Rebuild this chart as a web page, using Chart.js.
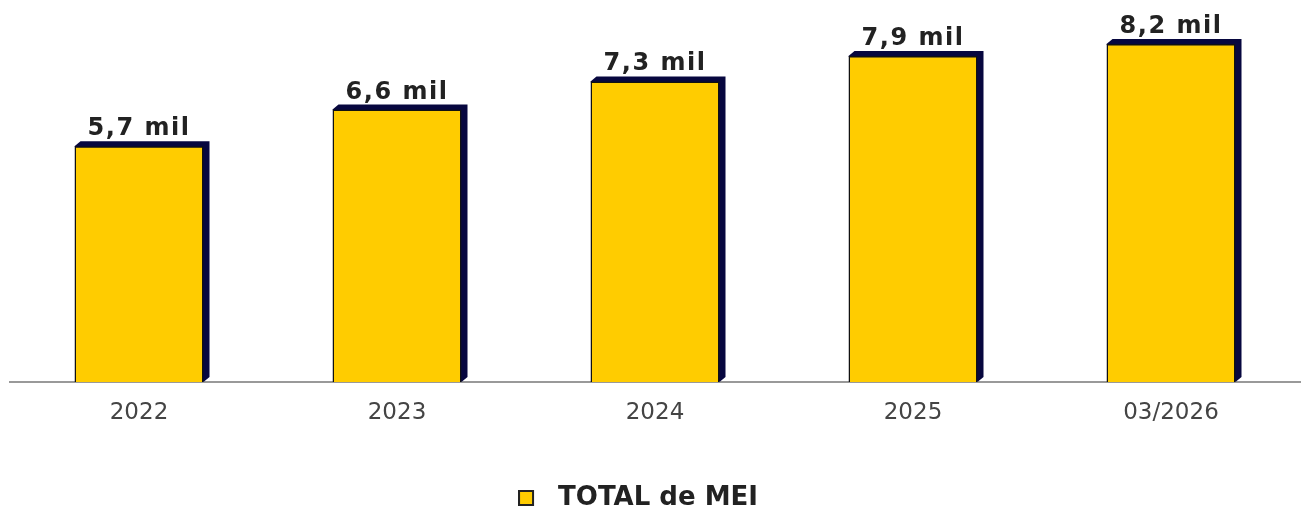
<!DOCTYPE html>
<html>
<head>
<meta charset="utf-8">
<script src="https://cdn.jsdelivr.net/npm/chart.js@4"></script>
<style>
  html, body { margin: 0; padding: 0; background: #fff; }
  #wrap { width: 1303px; height: 511px; }
</style>
</head>
<body>
<div id="wrap"><canvas id="chart"></canvas></div>
<script>
// values (in units)
const categories = ['2022', '2023', '2024', '2025', '03/2026'];
const totalMei = [5720, 6610, 7290, 7910, 8200];
const valueLabels = ['5,7 mil', '6,6 mil', '7,3 mil', '7,9 mil', '8,2 mil'];

const barColor = '#FFCC00';
const depthColor = '#07073F';

// legend marker: small bordered square with some room after it
const marker = document.createElement('canvas');
marker.width = 27;
marker.height = 16;
const mctx = marker.getContext('2d');
mctx.fillStyle = barColor;
mctx.fillRect(0, 0, 16, 16);
mctx.strokeStyle = '#222';
mctx.lineWidth = 2;
mctx.strokeRect(1, 1, 14, 14);

// fake 3D depth drawn behind each bar
const depthPlugin = {
    id: 'depth',
    beforeDatasetsDraw(chart) {
        const ctx = chart.ctx;
        const meta = chart.getDatasetMeta(0);
        const dx = 6, dy = 5;
        ctx.save();
        ctx.fillStyle = depthColor;
        meta.data.forEach(bar => {
            const half = bar.width / 2;
            const l = bar.x - half, r = bar.x + half;
            const t = bar.y, b = bar.base;
            ctx.beginPath();
            ctx.moveTo(l, t);
            ctx.lineTo(l + dx, t - dy);
            ctx.lineTo(r + dx, t - dy);
            ctx.lineTo(r + dx, b - dy);
            ctx.lineTo(r, b);
            ctx.closePath();
            ctx.fill();
        });
        ctx.restore();
    }
};

// value labels above the bars
const labelPlugin = {
    id: 'valueLabels',
    afterDatasetsDraw(chart) {
        const ctx = chart.ctx;
        const meta = chart.getDatasetMeta(0);
        ctx.save();
        ctx.font = "bold 24px 'DejaVu Sans'";
        ctx.letterSpacing = '1.5px';
        ctx.fillStyle = '#222';
        ctx.textAlign = 'center';
        ctx.textBaseline = 'alphabetic';
        meta.data.forEach((bar, i) => {
            ctx.fillText(valueLabels[i], bar.x, bar.y - 11);
        });
        ctx.restore();
    }
};

// legend sits a little left of centre in the original
const legendShift = {
    id: 'legendShift',
    afterLayout(chart) {
        chart.legend.left -= 34;
    }
};

new Chart(document.getElementById('chart'), {
    type: 'bar',
    data: {
        labels: categories,
        datasets: [{
            label: 'TOTAL de MEI',
            data: totalMei,
            backgroundColor: barColor,
            borderColor: '#111',
            borderWidth: 1.5,
            categoryPercentage: 1,
            barPercentage: 0.5
        }]
    },
    options: {
        responsive: true,
        maintainAspectRatio: false,
        animation: false,
        layout: { padding: { top: 11, left: 10, right: 3, bottom: -10 } },
        scales: {
            y: { display: false, min: 0, max: 9000 },
            x: {
                grid: { display: false },
                border: { display: true, color: '#999', width: 2 },
                ticks: { color: '#444', font: { family: "'DejaVu Sans'", size: 23 }, padding: 9 },
                afterFit(scale) { scale.height = 102; }
            }
        },
        plugins: {
            legend: {
                position: 'bottom',
                labels: {
                    usePointStyle: true,
                    pointStyle: marker,
                    pointStyleWidth: 27,
                    boxHeight: 16,
                    padding: 1,
                    color: '#222',
                    font: { family: "'DejaVu Sans'", size: 26, weight: 'bold', lineHeight: 1 }
                }
            },
            tooltip: { enabled: false }
        }
    },
    plugins: [depthPlugin, labelPlugin, legendShift]
});
</script>
</body>
</html>
